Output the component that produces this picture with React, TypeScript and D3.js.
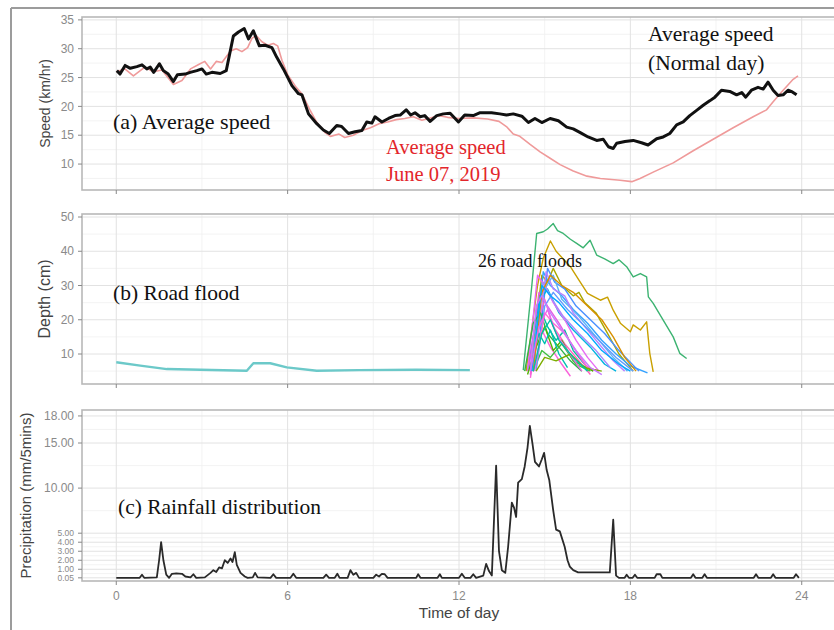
import React from 'react';
import * as d3 from 'd3';

// ---------- axis ticks ----------
const hourTicks = [0, 6, 12, 18, 24];
const hourMinor = [3, 9, 15, 21];
const speedTicks = [10, 15, 20, 25, 30, 35];
const depthTicks = [10, 20, 30, 40, 50];
const rainTicks = [0.05, 1, 2, 3, 4, 5, 10, 15, 18];
const rainTickLabels = ['0.05', '1.00', '2.00', '3.00', '4.00', '5.00', '10.00', '15.00', '18.00'];

// ---------- (a) speed ----------
const normalDay: [number, number][] = [
  [0.02, 26.2], [0.13, 25.6], [0.31, 27.1], [0.49, 26.6], [0.72, 26.9], [0.9, 27.2], [1.07, 26.5], [1.19, 26.8],
  [1.31, 25.9], [1.51, 27.4], [1.65, 26.2], [1.82, 25.6], [2.0, 24.3], [2.14, 25.5], [2.41, 25.6], [2.59, 25.9],
  [2.82, 26.2], [3.0, 26.5], [3.15, 25.6], [3.35, 25.9], [3.64, 25.7], [3.85, 26.2], [4.1, 32.2], [4.28, 32.9],
  [4.48, 33.5], [4.63, 31.7], [4.8, 33.1], [5.01, 30.5], [5.21, 30.6], [5.45, 30.2], [5.62, 28.5], [5.85, 26.5],
  [6.15, 23.6], [6.38, 22.2], [6.5, 22.0], [6.73, 18.7], [7.02, 17.0], [7.25, 15.9], [7.46, 15.3], [7.72, 16.7],
  [7.89, 16.5], [8.13, 15.3], [8.36, 15.6], [8.6, 15.8], [8.77, 17.3], [8.95, 17.1], [9.06, 18.2], [9.3, 17.3],
  [9.53, 17.9], [9.76, 18.4], [9.94, 18.5], [10.15, 19.4], [10.31, 18.5], [10.46, 18.9], [10.64, 18.2], [10.8, 18.4],
  [10.99, 17.4], [11.22, 18.4], [11.45, 18.7], [11.69, 18.8], [11.98, 17.3], [12.2, 18.5], [12.5, 18.4], [12.74, 18.9],
  [13.14, 18.9], [13.43, 18.7], [13.66, 18.5], [13.9, 18.7], [14.2, 18.3], [14.43, 17.2], [14.66, 17.9], [14.9, 17.2],
  [15.19, 17.9], [15.48, 17.5], [15.77, 16.4], [16.0, 16.1], [16.23, 15.5], [16.52, 14.7], [16.82, 14.1], [17.05, 14.3],
  [17.23, 13.0], [17.4, 12.7], [17.52, 13.6], [17.81, 13.9], [18.1, 14.1], [18.39, 13.7], [18.62, 13.3], [18.92, 14.4],
  [19.15, 14.7], [19.38, 15.3], [19.62, 16.8], [19.85, 17.3], [20.08, 18.4], [20.32, 19.3], [20.55, 20.2], [20.79, 21.0],
  [20.96, 21.6], [21.19, 22.8], [21.48, 22.6], [21.72, 22.0], [21.9, 22.4], [22.04, 21.6], [22.24, 22.8], [22.47, 23.3],
  [22.65, 23.0], [22.82, 24.2], [23.0, 22.8], [23.17, 21.9], [23.35, 22.0], [23.52, 22.8], [23.67, 22.5], [23.82, 22.0]
];

const june07: [number, number][] = [
  [0.0, 26.0], [0.3, 26.5], [0.6, 25.3], [1.0, 26.8], [1.3, 26.0], [1.6, 26.3], [2.0, 23.8], [2.3, 24.5],
  [2.6, 26.5], [2.9, 27.3], [3.1, 27.8], [3.3, 26.5], [3.5, 27.8], [3.7, 27.6], [3.85, 28.6], [4.0, 29.6],
  [4.2, 30.0], [4.4, 29.5], [4.6, 30.2], [4.75, 31.8], [4.9, 32.3], [5.1, 31.2], [5.3, 30.6], [5.5, 30.9],
  [5.65, 30.5], [5.8, 28.0], [6.0, 25.5], [6.3, 23.3], [6.5, 22.2], [6.8, 19.2], [7.0, 17.4], [7.3, 15.5],
  [7.5, 14.8], [7.8, 15.2], [8.0, 14.6], [8.3, 15.0], [8.6, 15.8], [8.9, 16.3], [9.2, 17.0], [9.5, 17.3],
  [9.8, 17.7], [10.1, 17.9], [10.4, 18.2], [10.7, 17.6], [11.0, 18.0], [11.3, 18.4], [11.6, 18.1], [12.0, 17.9],
  [12.5, 18.0], [13.0, 17.8], [13.4, 17.4], [13.66, 16.5], [13.9, 15.2], [14.13, 14.8], [14.49, 13.4], [14.84, 12.1],
  [15.19, 11.0], [15.54, 9.9], [16.0, 8.8], [16.48, 7.9], [16.95, 7.5], [17.64, 7.2], [18.05, 6.95], [18.34, 7.5],
  [18.8, 8.6], [19.5, 10.2], [20.2, 12.3], [20.9, 14.3], [21.6, 16.3], [22.3, 18.2], [22.77, 19.4], [23.0, 20.8],
  [23.35, 22.8], [23.7, 24.7], [23.87, 25.3]
];

// ---------- (b) road flood ----------
const baseFlood: [number, number][] = [
  [0, 7.6], [0.84, 6.6], [1.77, 5.6], [2.94, 5.4], [4.57, 5.1], [4.8, 7.3], [5.39, 7.3], [5.97, 6.1],
  [7.02, 5.1], [8.5, 5.3], [10.5, 5.4], [12.38, 5.3]
];

const flood01: [number, number][] = [[14.25, 5.3], [14.55, 30], [14.72, 45.2], [14.95, 45.7], [15.1, 46.5], [15.3, 48.1], [15.45, 46.0], [15.65, 45.2], [15.9, 43.5], [16.12, 42.3], [16.35, 41.0], [16.59, 43.2], [16.82, 38.9], [17.1, 37.8], [17.4, 36.4], [17.6, 37.5], [17.87, 35.5], [18.1, 32.5], [18.35, 33.5], [18.57, 32.5], [18.63, 26.7], [18.8, 24.8], [19.15, 19.9], [19.5, 15.0], [19.73, 10.2], [19.97, 8.7]];
const flood02: [number, number][] = [[14.35, 5], [14.75, 30], [14.95, 38], [15.2, 43], [15.4, 40], [15.9, 35.5], [16.2, 31.6], [16.5, 27.7], [16.95, 25.7], [17.2, 26.6], [17.4, 22.8], [17.65, 19], [18.0, 16.5], [18.1, 18.5], [18.35, 17], [18.57, 19.4], [18.68, 10.2], [18.8, 4.8]];
const flood03: [number, number][] = [[14.5, 5], [14.9, 33], [15.1, 31], [15.3, 35], [15.6, 30], [16.0, 27], [16.2, 28], [16.4, 25], [16.8, 22], [17.2, 16], [17.6, 10], [18.1, 5]];
const flood04: [number, number][] = [[14.6, 5], [14.95, 34], [15.2, 30], [15.6, 27], [16.0, 23], [16.5, 19], [17.0, 14], [17.5, 10], [18.0, 6.5], [18.6, 4.5]];
const flood05: [number, number][] = [[14.7, 6], [15.1, 35], [15.35, 31], [15.7, 29], [16.1, 24], [16.6, 20], [17.1, 16], [17.6, 11], [18.3, 5]];
const flood06: [number, number][] = [[14.5, 4], [14.85, 27], [15.3, 33], [15.6, 26], [16.2, 21], [16.8, 15], [17.4, 9], [17.9, 5]];
const flood07: [number, number][] = [[14.4, 5], [14.8, 25], [15.1, 29], [15.5, 22], [16.0, 17], [16.6, 12], [17.1, 7], [17.5, 5]];
const flood08: [number, number][] = [[14.5, 5], [14.9, 22], [15.1, 18], [15.4, 14], [15.7, 17], [16.0, 11], [16.5, 6]];
const flood09: [number, number][] = [[14.4, 5], [14.75, 33], [15.0, 30], [15.3, 25], [15.7, 20], [16.1, 14], [16.5, 9], [16.9, 5]];
const flood10: [number, number][] = [[14.5, 4], [14.8, 20], [15.0, 26], [15.3, 18], [15.7, 13], [16.2, 8], [16.6, 4]];
const flood11: [number, number][] = [[14.6, 5], [15.05, 34], [15.3, 29], [15.7, 27], [16.0, 22], [16.4, 18], [16.9, 13], [17.4, 8], [17.8, 5]];
const flood12: [number, number][] = [[14.5, 3], [14.7, 14], [14.9, 17], [15.2, 12], [15.6, 7], [15.9, 3.5]];
const flood13: [number, number][] = [[14.45, 6], [14.8, 28], [15.1, 24], [15.5, 19], [16.0, 12], [16.4, 7], [16.7, 5]];
const flood14: [number, number][] = [[14.55, 5], [14.95, 31], [15.25, 26], [15.65, 21], [16.2, 16], [16.8, 11], [17.3, 6]];
const flood15: [number, number][] = [[14.3, 5], [14.6, 19], [14.85, 22], [15.1, 16], [15.5, 12], [15.9, 8], [16.3, 5]];
const flood16: [number, number][] = [[14.4, 4], [14.7, 12], [15.0, 18], [15.3, 11], [15.6, 14], [16.0, 8], [16.7, 5]];
const flood17: [number, number][] = [[14.5, 6], [14.8, 16], [15.0, 13], [15.2, 17], [15.5, 10], [15.8, 6]];
const flood18: [number, number][] = [[14.6, 5], [14.9, 11], [15.2, 9], [15.6, 13], [16.1, 7], [16.6, 5]];
const flood19: [number, number][] = [[14.6, 5], [14.9, 28], [15.2, 33], [15.6, 30], [16.0, 28], [16.5, 24], [17.0, 20], [17.4, 15], [17.8, 9], [18.2, 5]];
const flood20: [number, number][] = [[14.7, 5], [15.0, 24], [15.3, 28], [15.8, 23], [16.3, 19], [16.9, 14], [17.5, 9], [18.1, 5]];
const flood21: [number, number][] = [[14.55, 5], [14.9, 30], [15.2, 27], [15.5, 25], [16.0, 20], [16.5, 16], [17.0, 11], [17.6, 7], [18.0, 5]];
const flood22: [number, number][] = [[14.65, 5], [15.0, 22], [15.3, 19], [15.7, 16], [16.1, 11], [16.5, 6], [16.9, 5]];
const flood23: [number, number][] = [[14.5, 5], [14.8, 18], [15.1, 23], [15.4, 16], [15.8, 11], [16.3, 5]];
const flood24: [number, number][] = [[14.7, 5], [15.0, 9], [15.4, 8], [15.9, 10], [16.4, 6], [17.0, 5]];
const flood25: [number, number][] = [[14.6, 5], [14.9, 16], [15.2, 20], [15.5, 14], [16.0, 9], [16.5, 5]];
const flood26: [number, number][] = [[14.5, 5], [14.7, 24], [14.9, 27], [15.2, 22], [15.6, 17], [16.1, 11], [16.6, 6], [17.0, 4]];

const floods = [flood01, flood02, flood03, flood04, flood05, flood06, flood07, flood08, flood09, flood10, flood11, flood12, flood13,
  flood14, flood15, flood16, flood17, flood18, flood19, flood20, flood21, flood22, flood23, flood24, flood25, flood26];
const floodColors = ['#3cb371', '#c9a000', '#a8a800', '#35a2ff', '#4a90ff', '#5cb3f5', '#00b4e0', '#00bfa0', '#e76bf3',
  '#ff61c3', '#b983ff', '#fa62db', '#e35fe0', '#a58aff', '#2fb34a', '#53b400', '#00c0b0', '#3fbf3f', '#d89000',
  '#619cff', '#00a9ff', '#ff6ad5', '#f066ea', '#7cae00', '#00c1a8', '#c77cff'];

// ---------- (c) rainfall ----------
const rainfall: [number, number][] = [
  [0, 0.05], [0.82, 0.05], [0.9, 0.4], [0.98, 0.05], [1.42, 0.1], [1.5, 2.0], [1.57, 4.0], [1.65, 2.0], [1.75, 0.4],
  [1.85, 0.05], [1.95, 0.5], [2.1, 0.55], [2.3, 0.5], [2.42, 0.2], [2.6, 0.1], [2.7, 0.45], [2.8, 0.05], [3.1, 0.1],
  [3.3, 0.6], [3.4, 0.9], [3.5, 0.7], [3.6, 1.2], [3.7, 1.1], [3.8, 2.0], [3.9, 1.7], [4.0, 2.2], [4.07, 1.8],
  [4.15, 2.9], [4.22, 1.5], [4.35, 0.6], [4.5, 0.2], [4.6, 0.05], [4.78, 0.1], [4.86, 0.6], [4.95, 0.1], [5.4, 0.05],
  [5.5, 0.45], [5.6, 0.05], [6.1, 0.05], [6.2, 0.5], [6.3, 0.05], [7.25, 0.05], [7.35, 0.4], [7.45, 0.05], [7.65, 0.05],
  [7.74, 0.5], [7.82, 0.05], [8.1, 0.05], [8.2, 0.9], [8.3, 0.4], [8.4, 0.6], [8.5, 0.05], [9.0, 0.05], [9.1, 0.4],
  [9.2, 0.2], [9.3, 0.5], [9.4, 0.45], [9.5, 0.05], [10.5, 0.05], [10.57, 0.45], [10.65, 0.05], [11.25, 0.05],
  [11.33, 0.45], [11.4, 0.05], [12.0, 0.05], [12.1, 0.5], [12.2, 0.05], [12.4, 0.05], [12.5, 0.45], [12.6, 0.05],
  [12.85, 0.3], [12.95, 1.6], [13.05, 0.8], [13.15, 0.3], [13.3, 12.5], [13.4, 3.0], [13.5, 0.9], [13.62, 0.6],
  [13.72, 3.5], [13.85, 8.4], [13.93, 7.8], [14.0, 6.8], [14.07, 10.6], [14.2, 11.0], [14.3, 12.4], [14.4, 14.5],
  [14.48, 16.9], [14.57, 15.0], [14.66, 12.9], [14.8, 12.4], [14.9, 13.2], [14.98, 13.9], [15.07, 12.0], [15.16, 10.9],
  [15.3, 7.5], [15.4, 5.4], [15.53, 5.2], [15.7, 3.5], [15.8, 2.0], [15.88, 1.3], [16.0, 0.9], [16.17, 0.65],
  [17.28, 0.65], [17.4, 6.5], [17.5, 0.3], [17.6, 0.05], [17.8, 0.05], [17.87, 0.4], [17.95, 0.05], [18.08, 0.05],
  [18.16, 0.4], [18.24, 0.05], [18.85, 0.05], [18.92, 0.45], [19.05, 0.45], [19.12, 0.05], [20.12, 0.05], [20.2, 0.45],
  [20.28, 0.05], [20.52, 0.05], [20.6, 0.45], [20.68, 0.05], [22.32, 0.05], [22.4, 0.45], [22.48, 0.05], [22.92, 0.05],
  [23.0, 0.45], [23.08, 0.05], [23.72, 0.05], [23.8, 0.45], [23.9, 0.05]
];

// ---------- layout ----------
const W = 834;
const H = 630;
const X0 = 82;
const X1 = 836;
const sans = 'Liberation Sans, Arial, sans-serif';
const serif = 'Liberation Serif, Times New Roman, serif';

const x = d3.scaleLinear().domain([-1.2, 25.2]).range([X0, X1]);

type PanelProps = {
  top: number;
  bottom: number;
  y: d3.ScaleLinear<number, number>;
  ticks: number[];
  labels: string[];
  title: string;
  titleX: number;
  titleSize: number;
  children?: React.ReactNode;
};

function minorBetween(t: number[], domain: number[]): number[] {
  const out: number[] = [];
  for (let i = 0; i < t.length - 1; i++) out.push((t[i] + t[i + 1]) / 2);
  const step = t[1] - t[0];
  if (t[0] - step / 2 > domain[0]) out.push(t[0] - step / 2);
  return out;
}

function Panel({ top, bottom, y, ticks, labels, title, titleX, titleSize, children }: PanelProps) {
  const minors = minorBetween(ticks, y.domain());
  const clipId = 'clip' + top;
  return (
    <g>
      <defs>
        <clipPath id={clipId}>
          <rect x={X0} y={top} width={X1 - X0} height={bottom - top} />
        </clipPath>
      </defs>
      <rect x={X0} y={top} width={X1 - X0} height={bottom - top} fill="#fff" />
      {minors.map((v, i) => (
        <line key={'hm' + i} x1={X0} x2={X1} y1={y(v)} y2={y(v)} stroke="#f0f0f0" strokeWidth={0.8} />
      ))}
      {hourMinor.map((h) => (
        <line key={'vm' + h} x1={x(h)} x2={x(h)} y1={top} y2={bottom} stroke="#f0f0f0" strokeWidth={0.8} />
      ))}
      {ticks.map((v, i) => (
        <line key={'hM' + i} x1={X0} x2={X1} y1={y(v)} y2={y(v)} stroke="#e2e2e2" strokeWidth={1} />
      ))}
      {hourTicks.map((h) => (
        <line key={'vM' + h} x1={x(h)} x2={x(h)} y1={top} y2={bottom} stroke="#e2e2e2" strokeWidth={1} />
      ))}
      <g clipPath={`url(#${clipId})`}>{children}</g>
      <rect x={X0} y={top} width={X1 - X0} height={bottom - top} fill="none" stroke="#b8b8b8" strokeWidth={1.6} />
      {ticks.map((v, i) => {
        const small = v <= 5 && ticks.length > 6;
        return (
          <g key={'yt' + i}>
            <line x1={X0 - 4} x2={X0} y1={y(v)} y2={y(v)} stroke="#888" strokeWidth={1} />
            <text x={X0 - 8} y={y(v)} dy="0.35em" textAnchor="end" fontFamily={sans} fontSize={small ? 8.5 : 12} fill="#8a8a8a">
              {labels[i]}
            </text>
          </g>
        );
      })}
      {hourTicks.map((h) => (
        <line key={'xt' + h} x1={x(h)} x2={x(h)} y1={bottom} y2={bottom + 4} stroke="#888" strokeWidth={1} />
      ))}
      <text
        transform={`translate(${titleX},${(top + bottom) / 2}) rotate(-90)`}
        textAnchor="middle"
        fontFamily={sans}
        fontSize={titleSize}
        fill="#444"
      >
        {title}
      </text>
    </g>
  );
}

export default function App() {
  const yA = d3.scaleLinear().domain([5.5, 35.5]).range([190, 17]);
  const yB = d3.scaleLinear().domain([1.24, 50.88]).range([384, 214]);
  const yC = d3.scaleLinear().domain([-0.3, 18.66]).range([581, 410]);

  const lineA = d3.line<[number, number]>().x((d) => x(d[0])).y((d) => yA(d[1]));
  const lineB = d3.line<[number, number]>().x((d) => x(d[0])).y((d) => yB(d[1]));
  const lineC = d3.line<[number, number]>().x((d) => x(d[0])).y((d) => yC(d[1]));

  return (
    <svg width={W} height={H} style={{ position: 'absolute', left: 0, top: 0, background: '#fff' }}>
      <rect x={0} y={0} width={W} height={H} fill="#fff" />
      <line x1={11} x2={11} y1={8} y2={H} stroke="#9c9c9c" strokeWidth={2} />
      <line x1={11} x2={W} y1={8} y2={8} stroke="#9c9c9c" strokeWidth={2} />

      <Panel top={17} bottom={190} y={yA} ticks={speedTicks} labels={speedTicks.map(String)} title="Speed (km/hr)" titleX={50} titleSize={14}>
        <path d={lineA(june07) || ''} fill="none" stroke="#ef9a9a" strokeWidth={1.6} strokeLinejoin="round" />
        <path d={lineA(normalDay) || ''} fill="none" stroke="#111" strokeWidth={3} strokeLinejoin="round" />
      </Panel>

      <Panel top={214} bottom={384} y={yB} ticks={depthTicks} labels={depthTicks.map(String)} title="Depth (cm)" titleX={50} titleSize={16}>
        <path d={lineB(baseFlood) || ''} fill="none" stroke="#6cc9c9" strokeWidth={2.4} strokeLinejoin="round" />
        {floods.map((f, i) => (
          <path key={i} d={lineB(f) || ''} fill="none" stroke={floodColors[i]} strokeWidth={1.4} strokeLinejoin="round" />
        ))}
      </Panel>

      <Panel top={410} bottom={581} y={yC} ticks={rainTicks} labels={rainTickLabels} title="Precipitation (mm/5mins)" titleX={31} titleSize={15}>
        <path d={lineC(rainfall) || ''} fill="none" stroke="#2a2a2a" strokeWidth={1.8} strokeLinejoin="round" />
      </Panel>

      {hourTicks.map((h) => (
        <text key={'xl' + h} x={x(h)} y={600} textAnchor="middle" fontFamily={sans} fontSize={12} fill="#8a8a8a">
          {h}
        </text>
      ))}
      <text x={x(12)} y={618} textAnchor="middle" fontFamily={sans} fontSize={15.5} fill="#444">
        Time of day
      </text>

      <text x={113} y={129} fontFamily={serif} fontSize={22} fill="#111">(a) Average speed</text>
      <text x={648} y={41} fontFamily={serif} fontSize={21.5} fill="#111">Average speed</text>
      <text x={648} y={70} fontFamily={serif} fontSize={21.5} fill="#111">(Normal day)</text>
      <text x={386} y={154} fontFamily={serif} fontSize={20.5} fill="#e3262b">Average speed</text>
      <text x={386} y={181} fontFamily={serif} fontSize={20.5} fill="#e3262b">June 07, 2019</text>
      <text x={113} y={300} fontFamily={serif} fontSize={21.5} fill="#111">(b) Road flood</text>
      <text x={478} y={267} fontFamily={serif} fontSize={18} fill="#111">26 road floods</text>
      <text x={118} y={514} fontFamily={serif} fontSize={21.5} fill="#111">(c) Rainfall distribution</text>
    </svg>
  );
}
